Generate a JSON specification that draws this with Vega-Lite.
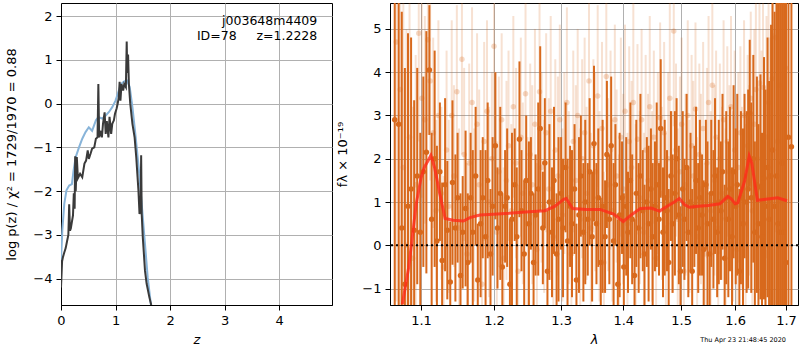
{
  "$schema": "https://vega.github.io/schema/vega-lite/v6.json",
  "background": "white",
  "padding": {"left": 5, "top": 2, "right": 0, "bottom": 0},
  "spacing": 3,
  "config": {
    "view": {"stroke": "black", "strokeWidth": 1},
    "axis": {
      "labelFont": "DejaVu Sans", "titleFont": "DejaVu Sans",
      "labelFontSize": 13, "titleFontSize": 13, "titleFontWeight": "normal",
      "labelColor": "black", "titleColor": "black",
      "domainColor": "black", "tickColor": "black", "tickSize": 5, "labelPadding": 4,
      "gridColor": "#b0b0b0", "gridWidth": 1, "grid": true, "labelFlush": false, "labelOverlap": false
    }
  },
  "datasets": {
    "pz": [
      {"z":0,"lp":-4.2},{"z":0.02,"lp":-3.6},{"z":0.037,"lp":-3.5},{"z":0.06,"lp":-3.4},{"z":0.086,"lp":-3.3},{"z":0.11,"lp":-3.15},{"z":0.135,"lp":-3.0},{"z":0.15,"lp":-2.3},{"z":0.165,"lp":-2.9},{"z":0.18,"lp":-2.85},{"z":0.2,"lp":-2.7},{"z":0.22,"lp":-2.55},{"z":0.235,"lp":-2.05},{"z":0.25,"lp":-2.4},{"z":0.26,"lp":-1.2},{"z":0.27,"lp":-2.0},{"z":0.285,"lp":-1.45},{"z":0.29,"lp":-1.22},{"z":0.31,"lp":-1.7},{"z":0.35,"lp":-1.6},{"z":0.39,"lp":-1.68},{"z":0.43,"lp":-1.37},{"z":0.46,"lp":-1.3},{"z":0.49,"lp":-1.07},{"z":0.51,"lp":-1.26},{"z":0.54,"lp":-1.15},{"z":0.57,"lp":-1.03},{"z":0.61,"lp":-1.0},{"z":0.64,"lp":-0.8},{"z":0.67,"lp":-0.77},{"z":0.685,"lp":0.45},{"z":0.7,"lp":-0.77},{"z":0.72,"lp":-0.62},{"z":0.75,"lp":-0.77},{"z":0.77,"lp":-0.46},{"z":0.8,"lp":-0.2},{"z":0.82,"lp":-0.69},{"z":0.84,"lp":-0.4},{"z":0.87,"lp":-0.77},{"z":0.89,"lp":-0.3},{"z":0.92,"lp":-0.69},{"z":0.94,"lp":-0.46},{"z":0.97,"lp":-0.38},{"z":0.99,"lp":-0.23},{"z":1.02,"lp":-0.11},{"z":1.04,"lp":0.0},{"z":1.06,"lp":0.15},{"z":1.075,"lp":0.5},{"z":1.09,"lp":0.07},{"z":1.11,"lp":0.45},{"z":1.14,"lp":0.3},{"z":1.16,"lp":0.45},{"z":1.19,"lp":0.38},{"z":1.205,"lp":1.42},{"z":1.215,"lp":0.7},{"z":1.23,"lp":1.12},{"z":1.245,"lp":0.45},{"z":1.27,"lp":0.0},{"z":1.31,"lp":-0.46},{"z":1.35,"lp":-0.77},{"z":1.38,"lp":-1.22},{"z":1.42,"lp":-1.98},{"z":1.44,"lp":-2.52},{"z":1.46,"lp":-2.4},{"z":1.47,"lp":-1.18},{"z":1.48,"lp":-2.52},{"z":1.5,"lp":-3.05},{"z":1.54,"lp":-3.81},{"z":1.57,"lp":-4.11},{"z":1.62,"lp":-4.42},{"z":1.655,"lp":-4.6}
    ],
    "pzsmooth": [
      {"z":0,"lp":-3.58},{"z":0.024,"lp":-2.9},{"z":0.06,"lp":-2.29},{"z":0.1,"lp":-1.98},{"z":0.15,"lp":-1.87},{"z":0.2,"lp":-1.84},{"z":0.23,"lp":-1.53},{"z":0.27,"lp":-1.22},{"z":0.33,"lp":-1.0},{"z":0.39,"lp":-0.8},{"z":0.45,"lp":-0.65},{"z":0.51,"lp":-0.54},{"z":0.57,"lp":-0.62},{"z":0.64,"lp":-0.38},{"z":0.685,"lp":-0.31},{"z":0.76,"lp":-0.34},{"z":0.82,"lp":-0.27},{"z":0.88,"lp":-0.19},{"z":0.94,"lp":-0.08},{"z":1.0,"lp":0.07},{"z":1.05,"lp":0.26},{"z":1.1,"lp":0.45},{"z":1.16,"lp":0.51},{"z":1.21,"lp":0.53},{"z":1.26,"lp":0.38},{"z":1.31,"lp":-0.08},{"z":1.37,"lp":-0.77},{"z":1.43,"lp":-1.53},{"z":1.49,"lp":-2.44},{"z":1.54,"lp":-3.2},{"z":1.59,"lp":-3.97},{"z":1.65,"lp":-4.6}
    ],
    "notes": [
      {"z":4.7,"lp":1.89,"label":"j003648m4409"},
      {"z":4.7,"lp":1.54,"label":"ID=78\u00a0\u00a0\u00a0\u00a0\u00a0z=1.2228"}
    ],
    "dark": [
      {"lam":1.066,"f":2.9,"e":6},{"lam":1.071,"f":2.8,"e":6},{"lam":1.075,"f":0.4,"e":5},{"lam":1.079,"f":-0.9,"e":5},{"lam":1.083,"f":0.9,"e":4},{"lam":1.087,"f":1.3,"e":3.5},{"lam":1.091,"f":0.35,"e":3},{"lam":1.095,"f":1.6,"e":2.5},{"lam":1.099,"f":0.3,"e":2.3},{"lam":1.103,"f":1.7,"e":2.2},{"lam":1.107,"f":2.15,"e":2.8},{"lam":1.111,"f":4.05,"e":1.5},{"lam":1.114,"f":0.6,"e":2.0},{"lam":1.118,"f":2.0,"e":2.5},{"lam":1.121,"f":0.1,"e":2.2},{"lam":1.125,"f":1.7,"e":1.6},{"lam":1.128,"f":-0.35,"e":1.8},{"lam":1.132,"f":1.4,"e":2.0},{"lam":1.135,"f":0.35,"e":1.6},{"lam":1.139,"f":-0.85,"e":1.4},{"lam":1.142,"f":1.45,"e":1.9},{"lam":1.146,"f":0.4,"e":1.7},{"lam":1.149,"f":1.1,"e":1.5},{"lam":1.153,"f":-0.7,"e":1.9},{"lam":1.156,"f":0.3,"e":1.3},{"lam":1.16,"f":0.85,"e":1.8},{"lam":1.163,"f":-0.4,"e":1.6},{"lam":1.167,"f":1.1,"e":1.5},{"lam":1.17,"f":0.3,"e":1.9},{"lam":1.174,"f":1.6,"e":1.6},{"lam":1.177,"f":-0.8,"e":1.3},{"lam":1.181,"f":0.5,"e":1.7},{"lam":1.184,"f":1.1,"e":1.4},{"lam":1.188,"f":0.2,"e":2.0},{"lam":1.191,"f":1.5,"e":1.8},{"lam":1.195,"f":-0.2,"e":1.5},{"lam":1.198,"f":0.9,"e":1.6},{"lam":1.202,"f":2.3,"e":1.7},{"lam":1.205,"f":0.4,"e":1.4},{"lam":1.209,"f":1.2,"e":2.0},{"lam":1.212,"f":-0.5,"e":1.7},{"lam":1.216,"f":0.9,"e":1.3},{"lam":1.219,"f":1.1,"e":1.6},{"lam":1.223,"f":-0.9,"e":1.5},{"lam":1.226,"f":0.6,"e":2.0},{"lam":1.23,"f":1.4,"e":1.3},{"lam":1.233,"f":0.2,"e":1.6},{"lam":1.237,"f":2.45,"e":1.8},{"lam":1.24,"f":0.8,"e":1.4},{"lam":1.244,"f":-0.2,"e":1.7},{"lam":1.247,"f":1.5,"e":1.5},{"lam":1.251,"f":0.5,"e":1.9},{"lam":1.254,"f":1.2,"e":1.3},{"lam":1.258,"f":-0.4,"e":1.6},{"lam":1.261,"f":0.7,"e":1.4},{"lam":1.265,"f":1.3,"e":2.0},{"lam":1.268,"f":2.7,"e":1.9},{"lam":1.272,"f":0.4,"e":1.3},{"lam":1.275,"f":1.9,"e":1.5},{"lam":1.279,"f":-0.6,"e":1.4},{"lam":1.282,"f":1.0,"e":1.8},{"lam":1.286,"f":0.3,"e":1.5},{"lam":1.289,"f":1.5,"e":1.7},{"lam":1.293,"f":-0.2,"e":1.4},{"lam":1.296,"f":0.6,"e":1.9},{"lam":1.3,"f":1.2,"e":1.3},{"lam":1.303,"f":0.4,"e":1.6},{"lam":1.307,"f":1.8,"e":1.5},{"lam":1.31,"f":0.1,"e":1.9},{"lam":1.314,"f":0.9,"e":1.4},{"lam":1.317,"f":0.5,"e":1.7},{"lam":1.321,"f":1.3,"e":1.5},{"lam":1.324,"f":-0.8,"e":1.3},{"lam":1.328,"f":0.7,"e":1.8},{"lam":1.331,"f":1.6,"e":1.4},{"lam":1.335,"f":0.3,"e":1.6},{"lam":1.338,"f":1.0,"e":1.9},{"lam":1.342,"f":0.6,"e":1.3},{"lam":1.345,"f":1.7,"e":1.7},{"lam":1.349,"f":0.2,"e":1.5},{"lam":1.352,"f":2.35,"e":1.8},{"lam":1.356,"f":0.5,"e":1.4},{"lam":1.359,"f":1.1,"e":1.6},{"lam":1.363,"f":-0.4,"e":1.5},{"lam":1.366,"f":0.9,"e":2.0},{"lam":1.37,"f":0.2,"e":1.3},{"lam":1.373,"f":2.1,"e":1.7},{"lam":1.377,"f":0.6,"e":1.5},{"lam":1.38,"f":2.3,"e":1.6},{"lam":1.384,"f":0.1,"e":1.8},{"lam":1.387,"f":1.4,"e":1.4},{"lam":1.391,"f":-0.9,"e":1.5},{"lam":1.394,"f":0.7,"e":1.9},{"lam":1.398,"f":1.1,"e":1.3},{"lam":1.401,"f":-0.5,"e":1.7},{"lam":1.405,"f":0.9,"e":1.6},{"lam":1.408,"f":0.3,"e":1.4},{"lam":1.412,"f":1.5,"e":1.8},{"lam":1.415,"f":0.6,"e":1.5},{"lam":1.419,"f":-0.7,"e":1.3},{"lam":1.422,"f":1.2,"e":1.7},{"lam":1.426,"f":0.4,"e":1.5},{"lam":1.429,"f":1.6,"e":1.9},{"lam":1.433,"f":0.8,"e":1.4},{"lam":1.436,"f":-0.2,"e":1.6},{"lam":1.44,"f":1.0,"e":1.5},{"lam":1.443,"f":0.5,"e":1.8},{"lam":1.447,"f":1.3,"e":1.4},{"lam":1.45,"f":0.2,"e":1.7},{"lam":1.454,"f":0.9,"e":1.5},{"lam":1.457,"f":1.4,"e":1.9},{"lam":1.461,"f":0.6,"e":1.3},{"lam":1.464,"f":2.7,"e":1.6},{"lam":1.468,"f":0.3,"e":1.5},{"lam":1.471,"f":1.1,"e":1.8},{"lam":1.475,"f":0.8,"e":1.4},{"lam":1.478,"f":-0.4,"e":1.7},{"lam":1.482,"f":1.6,"e":1.5},{"lam":1.485,"f":0.5,"e":1.6},{"lam":1.489,"f":1.2,"e":1.9},{"lam":1.492,"f":2.0,"e":1.4},{"lam":1.496,"f":0.7,"e":1.6},{"lam":1.499,"f":-0.6,"e":1.5},{"lam":1.503,"f":1.3,"e":1.8},{"lam":1.506,"f":0.6,"e":1.4},{"lam":1.51,"f":1.8,"e":1.7},{"lam":1.513,"f":0.3,"e":1.5},{"lam":1.517,"f":1.0,"e":1.6},{"lam":1.52,"f":-0.6,"e":1.9},{"lam":1.524,"f":0.9,"e":1.4},{"lam":1.527,"f":1.5,"e":1.7},{"lam":1.531,"f":0.4,"e":1.5},{"lam":1.534,"f":1.1,"e":1.8},{"lam":1.538,"f":0.7,"e":1.4},{"lam":1.541,"f":-0.1,"e":1.6},{"lam":1.545,"f":1.4,"e":1.5},{"lam":1.548,"f":0.5,"e":1.9},{"lam":1.552,"f":-0.2,"e":1.4},{"lam":1.555,"f":1.2,"e":1.7},{"lam":1.559,"f":0.6,"e":1.6},{"lam":1.562,"f":1.6,"e":1.8},{"lam":1.566,"f":0.3,"e":1.5},{"lam":1.569,"f":1.0,"e":1.9},{"lam":1.573,"f":0.8,"e":1.6},{"lam":1.576,"f":1.7,"e":1.8},{"lam":1.58,"f":-0.3,"e":1.7},{"lam":1.583,"f":1.1,"e":2.0},{"lam":1.587,"f":0.6,"e":1.8},{"lam":1.59,"f":1.3,"e":1.9},{"lam":1.594,"f":0.2,"e":1.6},{"lam":1.597,"f":1.7,"e":2.0},{"lam":1.601,"f":0.9,"e":1.8},{"lam":1.604,"f":1.4,"e":2.1},{"lam":1.608,"f":-0.6,"e":1.9},{"lam":1.611,"f":1.1,"e":2.0},{"lam":1.615,"f":0.5,"e":2.2},{"lam":1.618,"f":1.6,"e":1.9},{"lam":1.622,"f":1.0,"e":2.1},{"lam":1.625,"f":1.3,"e":2.3},{"lam":1.628,"f":3.05,"e":1.7},{"lam":1.631,"f":1.1,"e":2.2},{"lam":1.635,"f":2.0,"e":2.4},{"lam":1.638,"f":0.3,"e":2.1},{"lam":1.642,"f":1.4,"e":2.5},{"lam":1.645,"f":0.5,"e":2.3},{"lam":1.649,"f":1.35,"e":2.6},{"lam":1.652,"f":0.2,"e":2.4},{"lam":1.656,"f":1.55,"e":2.8},{"lam":1.659,"f":0.9,"e":2.7},{"lam":1.663,"f":1.8,"e":3.0},{"lam":1.666,"f":0.6,"e":3.2},{"lam":1.67,"f":1.6,"e":3.5},{"lam":1.673,"f":2.2,"e":3.6},{"lam":1.677,"f":0.9,"e":4.5},{"lam":1.681,"f":1.6,"e":5},{"lam":1.684,"f":0.5,"e":6},{"lam":1.688,"f":0.3,"e":7},{"lam":1.692,"f":1.9,"e":7},{"lam":1.696,"f":0.3,"e":8},{"lam":1.7,"f":-0.4,"e":8},{"lam":1.705,"f":2.5,"e":9},{"lam":1.711,"f":2.28,"e":9}
    ],
    "light": [
      {"lam":1.068,"f":4.7,"e":6},{"lam":1.073,"f":3.6,"e":6},{"lam":1.077,"f":1.8,"e":5},{"lam":1.081,"f":0.0,"e":5},{"lam":1.085,"f":2.5,"e":4},{"lam":1.089,"f":-0.3,"e":3.5},{"lam":1.093,"f":1.4,"e":3},{"lam":1.097,"f":4.9,"e":2.5},{"lam":1.101,"f":3.4,"e":2.3},{"lam":1.105,"f":2.9,"e":2.4},{"lam":1.109,"f":4.75,"e":2.2},{"lam":1.112,"f":3.8,"e":2.3},{"lam":1.116,"f":2.6,"e":2.2},{"lam":1.12,"f":0.8,"e":2.1},{"lam":1.123,"f":3.0,"e":2.2},{"lam":1.127,"f":1.2,"e":2.0},{"lam":1.13,"f":-0.5,"e":2.1},{"lam":1.134,"f":2.2,"e":2.3},{"lam":1.137,"f":0.9,"e":2.0},{"lam":1.141,"f":3.0,"e":2.2},{"lam":1.144,"f":1.6,"e":2.1},{"lam":1.148,"f":3.55,"e":2.0},{"lam":1.151,"f":0.4,"e":2.3},{"lam":1.155,"f":4.3,"e":2.2},{"lam":1.158,"f":2.1,"e":2.0},{"lam":1.162,"f":-0.2,"e":2.1},{"lam":1.165,"f":1.9,"e":2.3},{"lam":1.169,"f":3.3,"e":2.2},{"lam":1.172,"f":0.7,"e":2.0},{"lam":1.176,"f":2.8,"e":2.1},{"lam":1.179,"f":1.4,"e":2.2},{"lam":1.183,"f":-0.9,"e":2.0},{"lam":1.186,"f":2.4,"e":2.3},{"lam":1.19,"f":3.1,"e":2.1},{"lam":1.193,"f":1.0,"e":2.2},{"lam":1.197,"f":2.0,"e":2.0},{"lam":1.2,"f":4.6,"e":2.3},{"lam":1.204,"f":0.3,"e":2.1},{"lam":1.207,"f":1.7,"e":2.2},{"lam":1.211,"f":2.9,"e":2.0},{"lam":1.214,"f":-0.3,"e":2.1},{"lam":1.218,"f":1.5,"e":2.3},{"lam":1.221,"f":2.3,"e":2.2},{"lam":1.225,"f":0.8,"e":2.0},{"lam":1.228,"f":3.2,"e":2.1},{"lam":1.232,"f":1.9,"e":2.2},{"lam":1.235,"f":-0.6,"e":2.0},{"lam":1.239,"f":2.5,"e":2.3},{"lam":1.242,"f":1.2,"e":2.1},{"lam":1.246,"f":3.5,"e":2.2},{"lam":1.249,"f":0.5,"e":2.0},{"lam":1.253,"f":2.1,"e":2.1},{"lam":1.256,"f":1.4,"e":2.3},{"lam":1.26,"f":2.8,"e":2.2},{"lam":1.263,"f":-0.1,"e":2.0},{"lam":1.267,"f":3.55,"e":2.1},{"lam":1.27,"f":1.8,"e":2.2},{"lam":1.274,"f":0.9,"e":2.0},{"lam":1.277,"f":2.6,"e":2.3},{"lam":1.281,"f":1.3,"e":2.1},{"lam":1.284,"f":3.1,"e":2.2},{"lam":1.288,"f":0.2,"e":2.0},{"lam":1.291,"f":2.2,"e":2.1},{"lam":1.295,"f":1.6,"e":2.3},{"lam":1.298,"f":2.9,"e":2.2},{"lam":1.302,"f":0.7,"e":2.0},{"lam":1.305,"f":1.9,"e":2.1},{"lam":1.309,"f":3.3,"e":2.2},{"lam":1.312,"f":1.1,"e":2.0},{"lam":1.316,"f":-0.2,"e":2.3},{"lam":1.319,"f":2.4,"e":2.1},{"lam":1.323,"f":1.5,"e":2.2},{"lam":1.326,"f":3.0,"e":2.0},{"lam":1.33,"f":0.6,"e":2.1},{"lam":1.333,"f":2.0,"e":2.3},{"lam":1.337,"f":2.6,"e":2.2},{"lam":1.34,"f":1.2,"e":2.0},{"lam":1.344,"f":3.8,"e":2.1},{"lam":1.347,"f":0.4,"e":2.2},{"lam":1.351,"f":2.3,"e":2.0},{"lam":1.354,"f":1.7,"e":2.3},{"lam":1.358,"f":3.45,"e":2.1},{"lam":1.361,"f":0.9,"e":2.2},{"lam":1.365,"f":2.7,"e":2.0},{"lam":1.368,"f":-0.4,"e":2.1},{"lam":1.372,"f":3.9,"e":2.2},{"lam":1.375,"f":1.4,"e":2.0},{"lam":1.379,"f":2.2,"e":2.3},{"lam":1.382,"f":0.8,"e":2.1},{"lam":1.386,"f":2.9,"e":2.2},{"lam":1.389,"f":1.6,"e":2.0},{"lam":1.393,"f":0.0,"e":2.1},{"lam":1.396,"f":2.5,"e":2.3},{"lam":1.4,"f":1.3,"e":2.2},{"lam":1.403,"f":3.1,"e":2.0},{"lam":1.407,"f":0.5,"e":2.1},{"lam":1.41,"f":2.4,"e":2.2},{"lam":1.414,"f":1.8,"e":2.0},{"lam":1.417,"f":3.3,"e":2.3},{"lam":1.421,"f":0.7,"e":2.1},{"lam":1.424,"f":2.45,"e":2.2},{"lam":1.428,"f":1.1,"e":2.0},{"lam":1.431,"f":2.9,"e":2.1},{"lam":1.435,"f":0.3,"e":2.3},{"lam":1.438,"f":2.2,"e":2.2},{"lam":1.442,"f":1.5,"e":2.0},{"lam":1.445,"f":3.2,"e":2.1},{"lam":1.449,"f":0.9,"e":2.2},{"lam":1.452,"f":2.5,"e":2.0},{"lam":1.456,"f":-0.3,"e":2.3},{"lam":1.459,"f":1.9,"e":2.1},{"lam":1.463,"f":2.95,"e":2.2},{"lam":1.466,"f":1.2,"e":2.0},{"lam":1.47,"f":2.6,"e":2.1},{"lam":1.473,"f":0.4,"e":2.2},{"lam":1.477,"f":2.0,"e":2.0},{"lam":1.48,"f":3.4,"e":2.3},{"lam":1.484,"f":1.0,"e":2.1},{"lam":1.487,"f":4.95,"e":2.2},{"lam":1.491,"f":2.2,"e":2.0},{"lam":1.494,"f":0.6,"e":2.1},{"lam":1.498,"f":1.7,"e":2.2},{"lam":1.501,"f":2.8,"e":2.0},{"lam":1.505,"f":-0.6,"e":2.3},{"lam":1.508,"f":1.4,"e":2.1},{"lam":1.512,"f":3.0,"e":2.2},{"lam":1.515,"f":0.9,"e":2.0},{"lam":1.519,"f":2.3,"e":2.1},{"lam":1.522,"f":1.6,"e":2.2},{"lam":1.526,"f":3.15,"e":2.0},{"lam":1.529,"f":0.2,"e":2.3},{"lam":1.533,"f":2.1,"e":2.1},{"lam":1.536,"f":1.3,"e":2.2},{"lam":1.54,"f":2.7,"e":2.0},{"lam":1.543,"f":-0.2,"e":2.1},{"lam":1.547,"f":1.9,"e":2.2},{"lam":1.55,"f":3.3,"e":2.0},{"lam":1.554,"f":0.8,"e":2.3},{"lam":1.557,"f":3.7,"e":2.1},{"lam":1.561,"f":1.5,"e":2.2},{"lam":1.564,"f":2.5,"e":2.0},{"lam":1.568,"f":0.4,"e":2.1},{"lam":1.571,"f":2.0,"e":2.2},{"lam":1.575,"f":1.2,"e":2.0},{"lam":1.578,"f":2.9,"e":2.3},{"lam":1.582,"f":0.6,"e":2.1},{"lam":1.585,"f":2.4,"e":2.2},{"lam":1.589,"f":1.7,"e":2.0},{"lam":1.592,"f":3.2,"e":2.1},{"lam":1.596,"f":0.9,"e":2.2},{"lam":1.599,"f":2.2,"e":2.3},{"lam":1.603,"f":-0.1,"e":2.1},{"lam":1.606,"f":1.8,"e":2.2},{"lam":1.61,"f":2.6,"e":2.0},{"lam":1.613,"f":1.1,"e":2.1},{"lam":1.617,"f":3.0,"e":2.2},{"lam":1.62,"f":0.5,"e":2.3},{"lam":1.624,"f":2.3,"e":2.1},{"lam":1.627,"f":1.5,"e":2.2},{"lam":1.63,"f":3.4,"e":2.0},{"lam":1.633,"f":0.8,"e":2.3},{"lam":1.637,"f":2.8,"e":2.2},{"lam":1.64,"f":3.6,"e":2.1},{"lam":1.644,"f":1.3,"e":2.4},{"lam":1.647,"f":3.75,"e":2.3},{"lam":1.651,"f":2.0,"e":2.5},{"lam":1.654,"f":3.65,"e":2.4},{"lam":1.658,"f":1.1,"e":2.6},{"lam":1.661,"f":2.5,"e":2.8},{"lam":1.665,"f":3.3,"e":3.0},{"lam":1.668,"f":1.6,"e":3.2},{"lam":1.672,"f":3.85,"e":3.5},{"lam":1.675,"f":0.9,"e":4},{"lam":1.679,"f":4.8,"e":4.5},{"lam":1.683,"f":2.4,"e":5},{"lam":1.687,"f":3.7,"e":6},{"lam":1.691,"f":1.0,"e":7},{"lam":1.695,"f":2.9,"e":8},{"lam":1.699,"f":4.1,"e":8}
    ],
    "model": [
      {"lam":1.0757,"f":-1.36},{"lam":1.0838,"f":-0.52},{"lam":1.089,"f":0.25},{"lam":1.0936,"f":0.95},{"lam":1.1,"f":1.56},{"lam":1.104,"f":1.79},{"lam":1.109,"f":1.95},{"lam":1.113,"f":2.08},{"lam":1.118,"f":1.79},{"lam":1.125,"f":1.18},{"lam":1.132,"f":0.62},{"lam":1.143,"f":0.58},{"lam":1.157,"f":0.56},{"lam":1.166,"f":0.64},{"lam":1.18,"f":0.7},{"lam":1.199,"f":0.72},{"lam":1.222,"f":0.74},{"lam":1.246,"f":0.77},{"lam":1.275,"f":0.8},{"lam":1.29,"f":0.9},{"lam":1.304,"f":1.06},{"lam":1.308,"f":1.08},{"lam":1.318,"f":0.85},{"lam":1.34,"f":0.83},{"lam":1.362,"f":0.83},{"lam":1.384,"f":0.72},{"lam":1.4,"f":0.55},{"lam":1.415,"f":0.72},{"lam":1.429,"f":0.85},{"lam":1.447,"f":0.86},{"lam":1.462,"f":0.79},{"lam":1.476,"f":0.91},{"lam":1.488,"f":1.0},{"lam":1.497,"f":1.08},{"lam":1.506,"f":0.94},{"lam":1.515,"f":0.88},{"lam":1.531,"f":0.9},{"lam":1.549,"f":0.92},{"lam":1.571,"f":0.96},{"lam":1.586,"f":1.13},{"lam":1.592,"f":1.08},{"lam":1.6,"f":0.96},{"lam":1.605,"f":0.98},{"lam":1.618,"f":1.48},{"lam":1.627,"f":2.06},{"lam":1.632,"f":1.9},{"lam":1.643,"f":1.04},{"lam":1.656,"f":1.06},{"lam":1.683,"f":1.1},{"lam":1.702,"f":1.03}
    ],
    "stamp": [
      {"lam":1.7,"f":-2.19,"label":"Thu Apr 23 21:48:45 2020"}
    ]
  },
  "hconcat": [
    {
      "width": 271,
      "height": 302,
      "layer": [
        {
          "data": {"name": "pzsmooth"},
          "mark": {"type": "line", "color": "#88b4d9", "strokeWidth": 2, "clip": true},
          "encoding": {
            "x": {"field": "z", "type": "quantitative", "scale": {"domain": [0, 4.97], "nice": false, "zero": false},
                  "axis": {"values": [0, 1, 2, 3, 4], "title": "z", "titleFontStyle": "italic", "titlePadding": 6}},
            "y": {"field": "lp", "type": "quantitative", "scale": {"domain": [-4.6, 2.3], "nice": false, "zero": false},
                  "axis": {"values": [-4, -3, -2, -1, 0, 1, 2], "title": "log p(z) / χ² = 1729/1970 = 0.88", "titlePadding": 14,
                           "labelExpr": "replace(datum.label, '-', '−')"}}
          }
        },
        {
          "data": {"name": "pz"},
          "mark": {"type": "line", "color": "#3a3a3a", "strokeWidth": 2, "clip": true},
          "encoding": {
            "x": {"field": "z", "type": "quantitative", "title": "z"},
            "y": {"field": "lp", "type": "quantitative", "title": "log p(z) / χ² = 1729/1970 = 0.88"}
          }
        },
        {
          "data": {"name": "notes"},
          "mark": {"type": "text", "align": "right", "baseline": "middle", "font": "DejaVu Sans", "fontSize": 12.5, "color": "black"},
          "encoding": {
            "x": {"field": "z", "type": "quantitative", "title": "z"},
            "y": {"field": "lp", "type": "quantitative", "title": "log p(z) / χ² = 1729/1970 = 0.88"},
            "text": {"field": "label"}
          }
        }
      ]
    },
    {
      "width": 408,
      "height": 302,
      "layer": [
        {
          "data": {"name": "light"},
          "mark": {"type": "errorbar", "color": "#d8691c", "opacity": 0.2, "thickness": 2, "clip": true},
          "encoding": {
            "x": {"field": "lam", "type": "quantitative", "scale": {"type": "log", "domain": [1.06, 1.7245], "nice": false},
                  "axis": {"values": [1.1, 1.2, 1.3, 1.4, 1.5, 1.6, 1.7], "format": ".1f", "title": "λ", "titleFontStyle": "italic", "titlePadding": 6}},
            "y": {"field": "f", "type": "quantitative", "scale": {"domain": [-1.38, 5.6], "nice": false, "zero": false},
                  "axis": {"values": [-1, 0, 1, 2, 3, 4, 5], "title": "fλ × 10⁻¹⁹", "titlePadding": 12,
                           "labelExpr": "replace(datum.label, '-', '−')"}},
            "yError": {"field": "e"}
          }
        },
        {
          "data": {"name": "light"},
          "mark": {"type": "point", "filled": true, "color": "#d8691c", "opacity": 0.25, "size": 30, "clip": true},
          "encoding": {
            "x": {"field": "lam", "type": "quantitative", "title": "λ"},
            "y": {"field": "f", "type": "quantitative", "title": "fλ × 10⁻¹⁹"}
          }
        },
        {
          "data": {"name": "dark"},
          "mark": {"type": "errorbar", "color": "#d8691c", "opacity": 1, "thickness": 2, "clip": true},
          "encoding": {
            "x": {"field": "lam", "type": "quantitative", "title": "λ"},
            "y": {"field": "f", "type": "quantitative", "title": "fλ × 10⁻¹⁹"},
            "yError": {"field": "e"}
          }
        },
        {
          "data": {"name": "dark"},
          "mark": {"type": "point", "filled": true, "color": "#d8691c", "opacity": 1, "size": 30, "clip": true},
          "encoding": {
            "x": {"field": "lam", "type": "quantitative", "title": "λ"},
            "y": {"field": "f", "type": "quantitative", "title": "fλ × 10⁻¹⁹"}
          }
        },
        {
          "data": {"values": [{}]},
          "mark": {"type": "rule", "color": "black", "strokeDash": [2, 3], "strokeWidth": 2},
          "encoding": {"y": {"datum": 0}}
        },
        {
          "data": {"name": "model"},
          "mark": {"type": "line", "color": "#ff2a1a", "opacity": 0.8, "strokeWidth": 3, "clip": true},
          "encoding": {
            "x": {"field": "lam", "type": "quantitative", "title": "λ"},
            "y": {"field": "f", "type": "quantitative", "title": "fλ × 10⁻¹⁹"}
          }
        },
        {
          "data": {"name": "stamp"},
          "mark": {"type": "text", "align": "right", "baseline": "middle", "font": "DejaVu Sans", "fontSize": 6.5, "color": "black"},
          "encoding": {
            "x": {"field": "lam", "type": "quantitative", "title": "λ"},
            "y": {"field": "f", "type": "quantitative", "title": "fλ × 10⁻¹⁹"},
            "text": {"field": "label"}
          }
        }
      ]
    }
  ]
}
